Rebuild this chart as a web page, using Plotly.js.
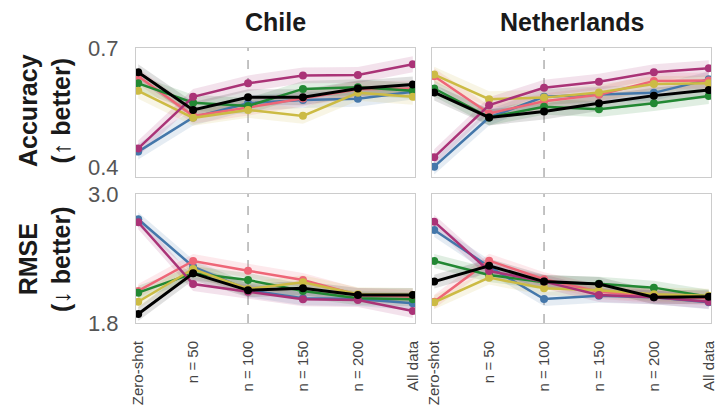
<!DOCTYPE html>
<html>
<head>
<meta charset="utf-8">
<script src="https://cdn.plot.ly/plotly-3.0.1.min.js"></script>
<style>html,body{margin:0;padding:0;background:#fff;}#chart{width:720px;height:416px;}</style>
</head>
<body>
<div id="chart"></div>
<script>
const categories = ["Zero-shot", "n = 50", "n = 100", "n = 150", "n = 200", "All data"];
const countries = ["Chile", "Netherlands"];
const seriesNames = ["Model A", "Model B", "Model C", "Model D", "Model E", "Model F"];
const seriesColors = ["#4477AA", "#EE6677", "#228833", "#CCBB44", "#AA3377", "#000000"];

// Accuracy, Chile
const accChileA = [0.439, 0.525, 0.561, 0.569, 0.572, 0.590];
const accChileB = [0.629, 0.529, 0.550, 0.573, 0.596, 0.598];
const accChileC = [0.611, 0.562, 0.554, 0.597, 0.601, 0.592];
const accChileD = [0.592, 0.524, 0.544, 0.529, 0.587, 0.577];
const accChileE = [0.447, 0.577, 0.611, 0.631, 0.632, 0.659];
const accChileF = [0.639, 0.544, 0.576, 0.576, 0.598, 0.608];
// Accuracy, Netherlands
const accNethA = [0.401, 0.525, 0.577, 0.583, 0.587, 0.621];
const accNethB = [0.629, 0.535, 0.566, 0.582, 0.617, 0.618];
const accNethC = [0.598, 0.525, 0.552, 0.546, 0.561, 0.579];
const accNethD = [0.633, 0.571, 0.575, 0.588, 0.609, 0.611];
const accNethE = [0.425, 0.556, 0.600, 0.615, 0.639, 0.649];
const accNethF = [0.588, 0.525, 0.540, 0.561, 0.580, 0.594];
// RMSE, Chile
const rmseChileA = [2.765, 2.324, 2.107, 2.030, 2.023, 1.983];
const rmseChileB = [2.098, 2.377, 2.287, 2.200, 2.061, 2.045];
const rmseChileC = [2.082, 2.262, 2.200, 2.098, 2.030, 2.021];
const rmseChileD = [1.998, 2.302, 2.116, 2.179, 2.067, 2.061];
const rmseChileE = [2.737, 2.163, 2.091, 2.021, 2.014, 1.912];
const rmseChileF = [1.884, 2.262, 2.104, 2.123, 2.061, 2.061];
// RMSE, Netherlands
const rmseNethA = [2.665, 2.324, 2.023, 2.054, 2.039, 1.993];
const rmseNethB = [1.998, 2.380, 2.207, 2.091, 2.051, 2.030];
const rmseNethC = [2.377, 2.247, 2.179, 2.166, 2.129, 2.045];
const rmseNethD = [1.993, 2.222, 2.123, 2.104, 2.067, 2.054];
const rmseNethE = [2.743, 2.284, 2.185, 2.061, 2.039, 1.998];
const rmseNethF = [2.185, 2.333, 2.185, 2.163, 2.039, 2.045];

const accBand = 0.02;
const rmseBand = 0.065;

const accTicks = [0.4, 0.7];
const accTickText = ["0.4", "0.7"];
const rmseTicks = [1.8, 3.0];
const rmseTickText = ["1.8", "3.0"];

const panels = [
  {xa: "x",  ya: "y",  data: [accChileA, accChileB, accChileC, accChileD, accChileE, accChileF], band: accBand},
  {xa: "x2", ya: "y2", data: [accNethA, accNethB, accNethC, accNethD, accNethE, accNethF], band: accBand},
  {xa: "x3", ya: "y3", data: [rmseChileA, rmseChileB, rmseChileC, rmseChileD, rmseChileE, rmseChileF], band: rmseBand},
  {xa: "x4", ya: "y4", data: [rmseNethA, rmseNethB, rmseNethC, rmseNethD, rmseNethE, rmseNethF], band: rmseBand}
];

function rgba(hex, a) {
  const n = parseInt(hex.slice(1), 16);
  return `rgba(${(n>>16)&255},${(n>>8)&255},${n&255},${a})`;
}

const traces = [];
panels.forEach((p, pi) => {
  p.data.forEach((vals, si) => {
    const col = seriesColors[si];
    traces.push({x: categories, y: vals.map(v => v - p.band), xaxis: p.xa, yaxis: p.ya,
      mode: "lines", line: {width: 0}, showlegend: false, hoverinfo: "skip", type: "scatter"});
    traces.push({x: categories, y: vals.map(v => v + p.band), xaxis: p.xa, yaxis: p.ya,
      mode: "lines", line: {width: 0}, fill: "tonexty", fillcolor: rgba(col, si === 5 ? 0.12 : 0.14),
      showlegend: false, hoverinfo: "skip", type: "scatter"});
  });
  p.data.forEach((vals, si) => {
    const col = seriesColors[si];
    traces.push({x: categories, y: vals, xaxis: p.xa, yaxis: p.ya, name: seriesNames[si],
      mode: "lines+markers", line: {color: col, width: si === 5 ? 3 : 2.5},
      marker: {color: col, size: 8}, showlegend: false, type: "scatter"});
  });
});

const xBase = {type: "category", range: [-0.04, 5.04], showgrid: false, zeroline: false,
  showline: true, mirror: true, linecolor: "#cccccc", linewidth: 1, ticks: "",
  tickangle: -90, tickfont: {family: "Liberation Sans, Arial, sans-serif", size: 15, color: "#444"},
  ticklabelstandoff: 11};
const yBase = {showgrid: false, zeroline: false, showline: true, mirror: true,
  linecolor: "#cccccc", linewidth: 1, ticks: "",
  tickfont: {family: "Liberation Sans, Arial, sans-serif", size: 22, color: "#555"},
  ticklabelstandoff: 12};

const xL = [136/720, 415/720], xR = [432/720, 711/720];
const yT = [(416-177)/416, (416-48)/416], yB = [(416-323)/416, (416-194)/416];
const titleFont = {family: "Liberation Sans, Arial, sans-serif", size: 25, color: "#1a1a1a"};

const layout = {
  width: 720, height: 416, margin: {l: 0, r: 0, t: 0, b: 0},
  paper_bgcolor: "#fff", plot_bgcolor: "#fff", showlegend: false,
  xaxis:  Object.assign({}, xBase, {domain: xL, anchor: "y",  showticklabels: false}),
  xaxis2: Object.assign({}, xBase, {domain: xR, anchor: "y2", showticklabels: false}),
  xaxis3: Object.assign({}, xBase, {domain: xL, anchor: "y3"}),
  xaxis4: Object.assign({}, xBase, {domain: xR, anchor: "y4"}),
  yaxis:  Object.assign({}, yBase, {domain: yT, anchor: "x",  range: [0.375, 0.70], tickvals: accTicks, ticktext: accTickText}),
  yaxis2: Object.assign({}, yBase, {domain: yT, anchor: "x2", range: [0.375, 0.70], tickvals: accTicks, showticklabels: false}),
  yaxis3: Object.assign({}, yBase, {domain: yB, anchor: "x3", range: [1.8, 3.0], tickvals: rmseTicks, ticktext: rmseTickText}),
  yaxis4: Object.assign({}, yBase, {domain: yB, anchor: "x4", range: [1.8, 3.0], tickvals: rmseTicks, showticklabels: false}),
  shapes: ["x", "x2", "x3", "x4"].map(xa => ({type: "line", xref: xa, yref: (xa === "x" ? "y" : "y" + xa.slice(1)) + " domain",
    x0: categories[2], x1: categories[2], y0: 0, y1: 1, layer: "below",
    line: {color: "#b0b0b0", width: 1.5, dash: "dash"}})),
  annotations: [
    {text: "<b>" + countries[0] + "</b>", xref: "paper", yref: "paper", x: (xL[0]+xL[1])/2, y: (416-22)/416,
      xanchor: "center", yanchor: "middle", showarrow: false, font: titleFont},
    {text: "<b>" + countries[1] + "</b>", xref: "paper", yref: "paper", x: (xR[0]+xR[1])/2, y: (416-22)/416,
      xanchor: "center", yanchor: "middle", showarrow: false, font: titleFont},
    {text: "<b>Accuracy<br>(↑ better)</b>", xref: "paper", yref: "paper", x: 44/720, y: (416-111)/416,
      xanchor: "center", yanchor: "middle", textangle: -90, showarrow: false, font: titleFont},
    {text: "<b>RMSE<br>(↓ better)</b>", xref: "paper", yref: "paper", x: 44/720, y: (416-259)/416,
      xanchor: "center", yanchor: "middle", textangle: -90, showarrow: false, font: titleFont}
  ]
};

Plotly.newPlot("chart", traces, layout, {displayModeBar: false, staticPlot: true});
</script>
</body>
</html>
